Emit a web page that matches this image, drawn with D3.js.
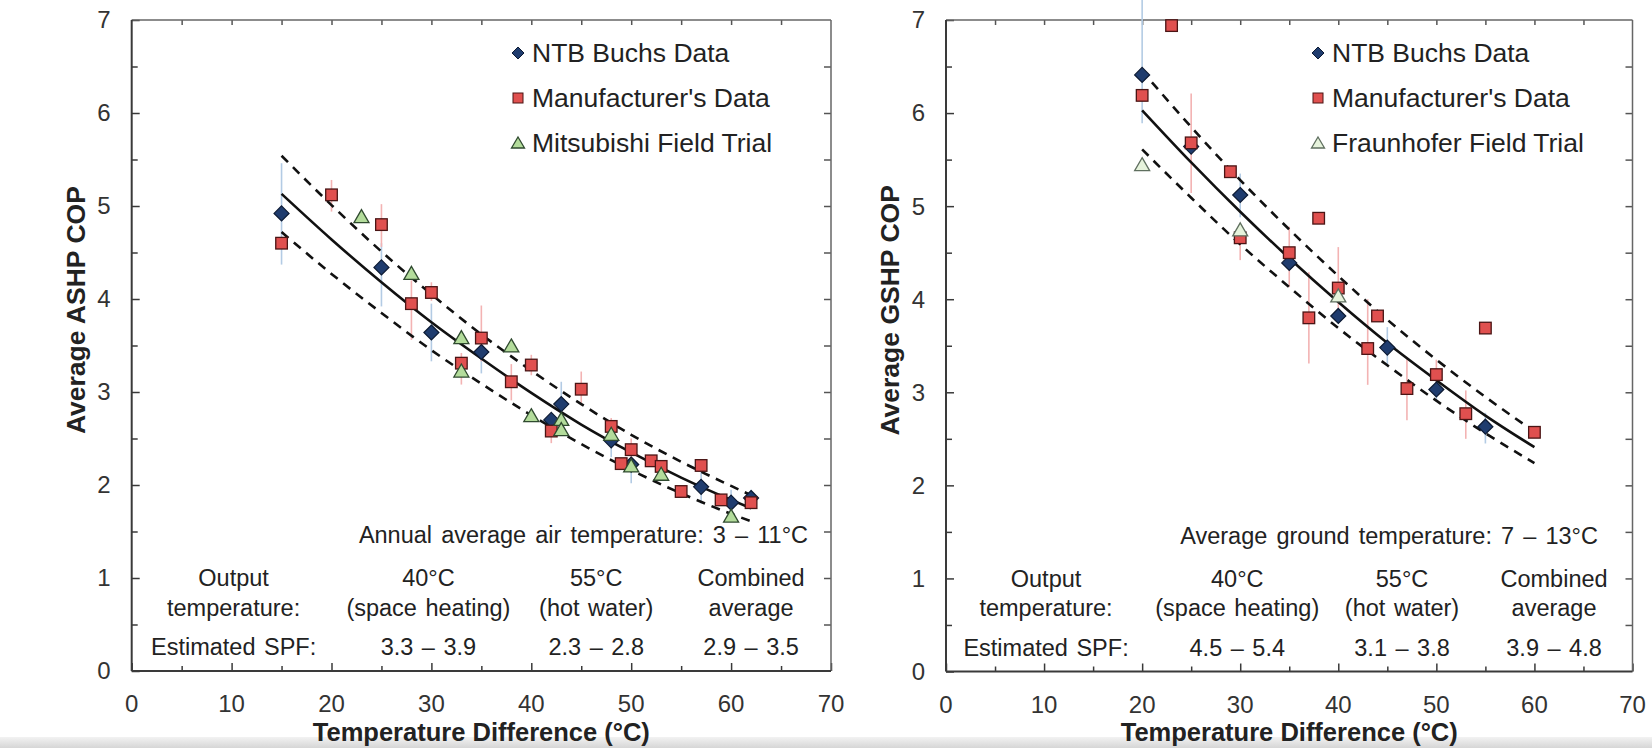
<!DOCTYPE html>
<html><head><meta charset="utf-8">
<script src="https://cdn.jsdelivr.net/npm/d3@7"></script>
<style>
body{margin:0;background:#fff;}
svg{display:block;}
text{font-family:"Liberation Sans", Arial, Helvetica, sans-serif;}
</style>
</head><body>
<svg id="c" width="1652" height="748"></svg>
<script>
// ---------------- DATA ----------------
const xTickValues = [0,10,20,30,40,50,60,70];
const yTickValues = [0,1,2,3,4,5,6,7];

// [x, COP, errLow, errHigh]
const ashpNtb = [[15,4.92,4.37,5.46],[25,4.34,3.92,4.60],[30,3.64,3.33,3.95],[35,3.43,3.20,3.65],[42,2.70,null,null],[43,2.87,2.63,3.11],[48,2.48,2.30,2.70],[50,2.22,2.02,2.40],[57,1.98,1.80,2.15],[60,1.81,1.70,1.95],[62,1.86,1.78,1.95]];
const ashpMfr = [[15,4.60,null,null],[20,5.12,4.94,5.28],[25,4.80,4.56,5.02],[28,3.95,3.56,4.20],[30,4.07,3.98,4.18],[33,3.31,3.08,3.42],[35,3.58,3.33,3.93],[38,3.11,2.91,3.30],[40,3.29,3.18,3.40],[42,2.58,2.45,2.72],[45,3.03,2.86,3.22],[48,2.63,2.50,2.72],[49,2.23,null,null],[50,2.38,2.28,2.50],[52,2.26,null,null],[53,2.20,null,null],[55,1.93,null,null],[57,2.21,null,null],[59,1.84,null,null],[62,1.81,null,null]];
const ashpField = [[23,4.88],[28,4.27],[33,3.58],[33,3.22],[38,3.49],[40,2.74],[43,2.70],[43,2.59],[48,2.54],[50,2.20],[53,2.11],[60,1.66]];
const ashpFitX = [15,20,25,30,35,40,45,50,55,60,62];
const ashpFit   = [5.13,4.64,4.18,3.75,3.36,2.99,2.65,2.35,2.08,1.84,1.75];
const ashpUpper = [5.54,5.01,4.51,4.05,3.62,3.23,2.87,2.54,2.25,1.99,1.89];
const ashpLower = [4.72,4.27,3.85,3.45,3.09,2.75,2.44,2.16,1.91,1.69,1.61];

const gshpNtb = [[20,6.41,5.89,7.25],[25,5.64,null,null],[30,5.12,4.88,5.35],[35,4.39,null,null],[40,3.82,null,null],[45,3.48,3.29,3.70],[50,3.03,2.90,3.15],[55,2.63,2.45,2.78]];
const gshpMfr = [[20,6.19,null,null],[23,6.94,null,null],[25,5.68,5.14,6.21],[29,5.37,null,null],[30,4.66,4.42,4.76],[35,4.50,4.13,4.78],[37,3.80,3.31,4.29],[38,4.87,null,null],[40,4.12,3.90,4.56],[43,3.47,3.08,4.00],[44,3.82,null,null],[47,3.04,2.70,3.38],[50,3.19,3.10,3.35],[53,2.77,2.50,3.02],[55,3.69,null,null],[60,2.57,null,null]];
const gshpField = [[20,5.44],[30,4.74],[40,4.03]];
const gshpFitX = [20,25,30,35,40,45,50,55,60];
const gshpFit   = [6.03,5.47,4.94,4.44,3.97,3.53,3.13,2.75,2.41];
const gshpUpperX = [21,25,30,35,40,45,50,55,59];
const gshpUpper = [6.33,5.85,5.28,4.75,4.25,3.78,3.35,2.95,2.65];
const gshpLower = [5.61,5.09,4.59,4.13,3.69,3.29,2.91,2.56,2.24];

const ashpLegend = ["NTB Buchs Data","Manufacturer's Data","Mitsubishi Field Trial"];
const gshpLegend = ["NTB Buchs Data","Manufacturer's Data","Fraunhofer Field Trial"];

const tableX = [10.2, 29.7, 46.5, 62];
const tableRow1 = ["Output","40°C","55°C","Combined"];
const tableRow2 = ["temperature:","(space heating)","(hot water)","average"];
const ashpSpf = ["Estimated SPF:","3.3 – 3.9","2.3 – 2.8","2.9 – 3.5"];
const gshpSpf = ["Estimated SPF:","4.5 – 5.4","3.1 – 3.8","3.9 – 4.8"];
const ashpNote = "Annual average air temperature: 3 – 11°C";
const gshpNote = "Average ground temperature: 7 – 13°C";

// ---------------- DRAWING ----------------
const svg = d3.select("#c");
const defs = svg.append("defs");
const grad = defs.append("linearGradient").attr("id","bg").attr("x1",0).attr("y1",0).attr("x2",0).attr("y2",1);
grad.append("stop").attr("offset","0%").attr("stop-color","#f2f2f2");
grad.append("stop").attr("offset","100%").attr("stop-color","#d6d6d6");
svg.append("rect").attr("x",0).attr("y",737).attr("width",1652).attr("height",11).attr("fill","url(#bg)");

const diamondPath = "M0,-7.5L7.5,0L0,7.5L-7.5,0Z";
const trianglePath = "M0,-7.5L7.5,5.5L-7.5,5.5Z";

function drawPanel(cfg){
  const x = d3.scaleLinear().domain([0,70]).range([cfg.x0, cfg.x1]);
  const y = d3.scaleLinear().domain([0,7]).range([cfg.y0, cfg.y1]);
  const g = svg.append("g");

  const axisColor = "#3a3a3a";
  const minorX = d3.range(0,71,5), minorY = d3.range(0,7.01,0.5);
  const bAx = g.append("g").attr("transform",`translate(0,${cfg.y0})`)
    .call(d3.axisBottom(x).tickValues(minorX).tickSizeInner(0).tickSizeOuter(0).tickFormat(""));
  bAx.select(".domain").remove();
  bAx.selectAll(".tick line").attr("y2", d => d%10===0 ? -8 : -5).attr("stroke",axisColor).attr("stroke-width",1.5);
  const tAx = g.append("g").attr("transform",`translate(0,${cfg.y1})`)
    .call(d3.axisTop(x).tickValues(minorX.filter(d=>d>0&&d<70)).tickSizeInner(0).tickSizeOuter(0).tickFormat(""));
  tAx.select(".domain").remove();
  tAx.selectAll(".tick line").attr("y2", 5).attr("stroke","#555").attr("stroke-width",1.5);
  const lAx = g.append("g").attr("transform",`translate(${cfg.x0},0)`)
    .call(d3.axisLeft(y).tickValues(minorY).tickSizeInner(0).tickSizeOuter(0).tickFormat(""));
  lAx.select(".domain").remove();
  lAx.selectAll(".tick line").attr("x2", d => Number.isInteger(d) ? 8 : 6).attr("stroke",axisColor).attr("stroke-width",1.5);
  const rAx = g.append("g").attr("transform",`translate(${cfg.x1},0)`)
    .call(d3.axisRight(y).tickValues(minorY.filter(d=>d>0&&d<7)).tickSizeInner(0).tickSizeOuter(0).tickFormat(""));
  rAx.select(".domain").remove();
  rAx.selectAll(".tick line").attr("x2", -7).attr("stroke","#555").attr("stroke-width",1.5);

  g.append("line").attr("x1",cfg.x0).attr("x2",cfg.x1).attr("y1",cfg.y1).attr("y2",cfg.y1).attr("stroke","#666").attr("stroke-width",1.5);
  g.append("line").attr("x1",cfg.x1).attr("x2",cfg.x1).attr("y1",cfg.y1).attr("y2",cfg.y0).attr("stroke","#666").attr("stroke-width",1.5);
  g.append("line").attr("x1",cfg.x0).attr("x2",cfg.x1).attr("y1",cfg.y0).attr("y2",cfg.y0).attr("stroke",axisColor).attr("stroke-width",2);
  g.append("line").attr("x1",cfg.x0).attr("x2",cfg.x0).attr("y1",cfg.y1).attr("y2",cfg.y0).attr("stroke",axisColor).attr("stroke-width",2);

  g.selectAll(".xl").data(xTickValues).enter().append("text")
    .attr("x", d=>x(d)).attr("y", cfg.y0+41).attr("text-anchor","middle")
    .attr("font-size",24).attr("fill","#333").text(d=>d);
  g.selectAll(".yl").data(yTickValues).enter().append("text")
    .attr("x", cfg.x0-21).attr("y", d=>y(d)).attr("dy","0.35em").attr("text-anchor","end")
    .attr("font-size",24).attr("fill","#333").text(d=>d);

  g.append("text").attr("x",(cfg.x0+cfg.x1)/2).attr("y",741).attr("text-anchor","middle")
    .attr("font-size",25.5).attr("font-weight","bold").attr("fill","#222").text("Temperature Difference (°C)");
  g.append("text").attr("transform",`translate(${cfg.x0-47},${y(3.88)}) rotate(-90)`).attr("text-anchor","middle")
    .attr("font-size",26.5).attr("font-weight","bold").attr("fill","#222").text(cfg.ytitle);

  const eb = g.append("g");
  function errs(data,color){
    eb.selectAll(null).data(data.filter(d=>d[2]!=null)).enter().append("line")
      .attr("x1",d=>x(d[0])).attr("x2",d=>x(d[0])).attr("y1",d=>y(d[2])).attr("y2",d=>y(d[3]))
      .attr("stroke",color).attr("stroke-width",1.6);
  }
  errs(cfg.ntb,"#b3cbe4");
  errs(cfg.mfr,"#f3b3b3");

  const line = (xs,ys)=> d3.line().x((d,i)=>x(xs[i])).y(d=>y(d)).curve(d3.curveMonotoneX)(ys);
  g.append("path").attr("d",line(cfg.fitX,cfg.fit)).attr("fill","none").attr("stroke","#111").attr("stroke-width",2.6);
  g.append("path").attr("d",line(cfg.upX,cfg.up)).attr("fill","none").attr("stroke","#111").attr("stroke-width",2.6).attr("stroke-dasharray","9,7");
  g.append("path").attr("d",line(cfg.fitX,cfg.low)).attr("fill","none").attr("stroke","#111").attr("stroke-width",2.6).attr("stroke-dasharray","9,7");

  g.selectAll(null).data(cfg.ntb).enter().append("path").attr("d",diamondPath)
    .attr("transform",d=>`translate(${x(d[0])},${y(d[1])})`).attr("fill","#1f3c6e").attr("stroke","#0c1a33").attr("stroke-width",1.2);
  g.selectAll(null).data(cfg.mfr).enter().append("rect")
    .attr("x",d=>x(d[0])-5.8).attr("y",d=>y(d[1])-5.8).attr("width",11.6).attr("height",11.6)
    .attr("fill","#e0504f").attr("stroke","#4a1515").attr("stroke-width",1.3);
  g.selectAll(null).data(cfg.field).enter().append("path").attr("d",trianglePath)
    .attr("transform",d=>`translate(${x(d[0])},${y(d[1])})`).attr("fill",cfg.triFill).attr("stroke",cfg.triStroke).attr("stroke-width",1.3);

  const lg = g.append("g");
  const ly = [53,98,143];
  const lx = cfg.legendX;
  lg.append("path").attr("d","M0,-6L6,0L0,6L-6,0Z").attr("transform",`translate(${lx},${ly[0]})`).attr("fill","#1f3c6e").attr("stroke","#0c1a33");
  lg.append("rect").attr("x",lx-5).attr("y",ly[1]-5).attr("width",10).attr("height",10).attr("fill","#e0504f").attr("stroke","#4a1515");
  lg.append("path").attr("d","M0,-6L6.5,5L-6.5,5Z").attr("transform",`translate(${lx},${ly[2]})`).attr("fill",cfg.triFill).attr("stroke",cfg.triStroke).attr("stroke-width",1.3);
  lg.selectAll(null).data(cfg.legend).enter().append("text")
    .attr("x",lx+14).attr("y",(d,i)=>ly[i]).attr("dy","0.35em").attr("font-size",26.5).attr("fill","#222").text(d=>d);

  g.append("text").attr("x",cfg.noteRight).attr("y",y(1.46)).attr("dy","0.35em").attr("text-anchor","end")
    .attr("font-size",23.5).attr("word-spacing","2.6px").attr("fill","#222").text(cfg.note);
  const rows = [[tableRow1,1.0],[tableRow2,0.68],[cfg.spf,0.26]];
  rows.forEach(([labels,yy])=>{
    g.selectAll(null).data(labels).enter().append("text")
      .attr("x",(d,i)=>x(tableX[i])).attr("y",y(yy)).attr("dy","0.35em").attr("text-anchor","middle")
      .attr("font-size",23.5).attr("word-spacing","2px").attr("fill","#222").text(d=>d);
  });
}

drawPanel({x0:131.7,x1:831,y0:671,y1:20,ytitle:"Average ASHP COP",
  ntb:ashpNtb,mfr:ashpMfr,field:ashpField,fitX:ashpFitX,fit:ashpFit,upX:ashpFitX,up:ashpUpper,low:ashpLower,
  triFill:"#b3dc9b",triStroke:"#2f4a2f",legend:ashpLegend,legendX:518,note:ashpNote,noteRight:808,spf:ashpSpf});
drawPanel({x0:946,x1:1632.5,y0:671.5,y1:20,ytitle:"Average GSHP COP",
  ntb:gshpNtb,mfr:gshpMfr,field:gshpField,fitX:gshpFitX,fit:gshpFit,upX:gshpUpperX,up:gshpUpper,low:gshpLower,
  triFill:"#e6f3dc",triStroke:"#5f6f5f",legend:gshpLegend,legendX:1318,note:gshpNote,noteRight:1598,spf:gshpSpf});
</script>
</body></html>
